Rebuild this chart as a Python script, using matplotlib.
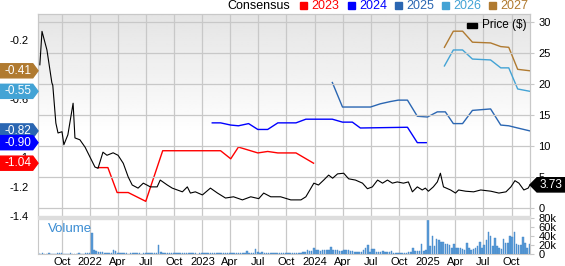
import matplotlib
matplotlib.use('Agg')
import matplotlib.pyplot as plt
import matplotlib.dates as mdates
import matplotlib.transforms as mtransforms
from matplotlib.patches import Polygon, Rectangle
from matplotlib.ticker import FuncFormatter
import numpy as np
import pandas as pd

plt.rcParams['font.family'] = ['Liberation Sans', 'DejaVu Sans']

# stock price ($), right axis
price_dates = ['2021-07-22', '2021-07-29', '2021-08-14', '2021-08-30', '2021-09-02', '2021-09-12',
               '2021-09-19', '2021-10-02', '2021-10-08', '2021-10-21', '2021-11-07', '2021-11-13',
               '2021-11-29', '2021-12-16', '2022-01-01', '2022-01-17', '2022-01-27', '2022-02-12',
               '2022-02-25', '2022-03-17', '2022-04-02', '2022-04-19', '2022-05-05', '2022-05-18',
               '2022-06-06', '2022-06-23', '2022-07-16', '2022-08-07', '2022-08-17', '2022-09-09',
               '2022-09-25', '2022-10-28', '2022-11-13', '2022-11-23', '2022-12-09', '2023-01-01',
               '2023-01-27', '2023-02-19', '2023-03-17', '2023-04-12', '2023-05-11', '2023-06-07',
               '2023-07-03', '2023-07-19', '2023-08-11', '2023-09-12', '2023-10-15', '2023-11-17',
               '2023-12-03', '2023-12-29', '2024-01-13', '2024-01-30', '2024-02-15', '2024-02-28',
               '2024-03-15', '2024-04-04', '2024-04-20', '2024-05-12', '2024-06-04', '2024-06-20',
               '2024-07-06', '2024-07-23', '2024-08-08', '2024-08-24', '2024-09-09', '2024-09-25',
               '2024-10-15', '2024-10-31', '2024-11-13', '2024-11-29', '2024-12-15', '2024-12-25',
               '2025-01-04', '2025-01-20', '2025-02-02', '2025-02-12', '2025-02-22', '2025-03-17',
               '2025-04-02', '2025-04-12', '2025-05-05', '2025-05-31', '2025-06-23', '2025-07-26',
               '2025-08-21', '2025-09-13', '2025-09-29', '2025-10-12', '2025-10-25', '2025-11-10',
               '2025-11-24', '2025-11-30']
price = [23.1, 28.5, 25.5, 20.2, 19.8, 13.7,
         12.1, 12.3, 10.2, 11.8, 16.9, 11.3,
         11.0, 9.8, 8.2, 6.6, 6.4, 9.0,
         8.5, 8.9, 8.5, 7.2, 5.0, 3.7,
         3.2, 4.0, 3.4, 3.4, 4.5, 3.7,
         3.2, 2.6, 3.4, 2.4, 2.6, 2.1,
         3.2, 2.4, 1.6, 1.8, 1.3, 1.8,
         1.5, 2.4, 1.8, 1.8, 1.3, 1.3,
         1.8, 4.0, 3.7, 4.5, 5.3, 4.8,
         5.5, 5.6, 4.7, 4.5, 4.0, 3.1,
         3.4, 4.5, 4.0, 4.5, 4.0, 4.2,
         4.0, 4.2, 2.6, 3.4, 2.9, 3.2,
         2.7, 3.4, 4.2, 5.6, 3.4, 2.9,
         2.4, 2.9, 2.7, 2.6, 2.9, 2.7,
         2.4, 2.6, 3.4, 4.4, 4.0, 2.9,
         3.2, 3.73]

# consensus EPS estimates, left axis
eps_years = ['2023', '2024', '2025', '2026', '2027']
eps_colors = ['#ff0000', '#0000ff', '#2a66b2', '#43a3d5', '#b07a30']

eps_2023_dates = ['2022-01-27', '2022-02-28', '2022-03-30', '2022-05-05', '2022-07-01', '2022-08-25',
                  '2023-03-01', '2023-04-03', '2023-04-28', '2023-06-30', '2023-08-01', '2023-09-03',
                  '2023-11-01', '2023-12-28']
eps_2023 = [-1.07, -1.07, -1.24, -1.24, -1.30, -0.955,
            -0.955, -1.01, -0.93, -0.97, -0.96, -0.97,
            -0.97, -1.04]

eps_2024_dates = ['2023-02-02', '2023-03-01', '2023-04-03', '2023-04-28', '2023-05-31', '2023-06-30',
                  '2023-08-01', '2023-09-03', '2023-11-01', '2023-12-03', '2024-02-27', '2024-03-31',
                  '2024-05-02', '2024-05-28', '2024-10-28', '2024-11-29', '2024-12-28']
eps_2024 = [-0.765, -0.765, -0.78, -0.785, -0.77, -0.81,
            -0.81, -0.765, -0.765, -0.74, -0.74, -0.76,
            -0.76, -0.80, -0.795, -0.90, -0.90]

eps_2025_dates = ['2024-02-27', '2024-03-31', '2024-06-30', '2024-08-01', '2024-09-02', '2024-09-28',
                  '2024-10-28', '2024-11-29', '2025-01-01', '2025-02-02', '2025-02-28', '2025-03-26',
                  '2025-04-25', '2025-05-27', '2025-07-25', '2025-08-27', '2025-09-22', '2025-10-21',
                  '2025-11-30']
eps_2025 = [-0.49, -0.657, -0.657, -0.635, -0.62, -0.61,
            -0.61, -0.72, -0.725, -0.69, -0.69, -0.77,
            -0.77, -0.68, -0.67, -0.78, -0.785, -0.80,
            -0.82]

eps_2026_dates = ['2025-02-25', '2025-03-26', '2025-04-25', '2025-05-27', '2025-07-25', '2025-08-27',
                  '2025-09-22', '2025-10-21', '2025-11-30']
eps_2026 = [-0.377, -0.268, -0.268, -0.33, -0.336, -0.39, -0.39, -0.534, -0.55]

eps_2027_dates = ['2025-02-25', '2025-03-26', '2025-04-25', '2025-05-27', '2025-07-25', '2025-08-27',
                  '2025-09-22', '2025-10-21', '2025-11-30']
eps_2027 = [-0.25, -0.14, -0.14, -0.215, -0.22, -0.245, -0.25, -0.40, -0.41]

eps_dates = [eps_2023_dates, eps_2024_dates, eps_2025_dates, eps_2026_dates, eps_2027_dates]
eps_vals = [eps_2023, eps_2024, eps_2025, eps_2026, eps_2027]

# weekly volume (thousands of shares), weeks starting 2021-07-16
vol_start = '2021-07-16'
volume_k = [2, 1, 2, 1, 1, 2, 1, 1, 1, 2, 2, 3, 1,
            1, 1, 2, 1, 1, 1, 2, 1, 1, 2, 3, 2, 47,
            9, 6, 5, 4, 4, 3, 3, 3, 3, 10, 6, 3, 2,
            2, 2, 2, 1, 2, 3, 2, 2, 2, 1, 2, 2, 2,
            2, 2, 3, 2, 20, 4, 2, 2, 2, 3, 2, 2, 2,
            2, 2, 3, 2, 2, 2, 2, 2, 2, 1, 2, 2, 2,
            2, 2, 2, 2, 3, 2, 2, 2, 2, 2, 2, 2, 2,
            2, 2, 2, 2, 2, 3, 7, 3, 3, 3, 12, 4, 3,
            4, 3, 2, 2, 2, 2, 2, 2, 2, 2, 2, 2, 2,
            2, 2, 2, 2, 3, 3, 4, 5, 9, 7, 6, 13, 8,
            8, 7, 10, 8, 9, 8, 16, 9, 8, 8, 7, 7, 10,
            10, 8, 6, 7, 5, 5, 5, 4, 8, 13, 20, 4, 11,
            11, 5, 5, 5, 7, 4, 4, 4, 6, 3, 3, 3, 3,
            3, 3, 3, 5, 4, 13, 6, 6, 6, 22, 7, 10, 75,
            18, 41, 17, 34, 31, 26, 26, 22, 22, 21, 14, 22, 13,
            13, 13, 11, 9, 25, 13, 9, 12, 14, 17, 26, 14, 20,
            32, 49, 39, 18, 35, 18, 14, 12, 33, 25, 25, 39, 37,
            49, 22, 20, 20, 38, 25, 14, 22]

price_ticks = [0, 5, 10, 15, 20, 25, 30]
eps_ticks = [-0.2, -0.4, -0.6, -0.8, -1.0, -1.2, -1.4]
# -0.4 and -0.8 sit fully under the value tags
eps_tick_labels = ['-0.2', '', '-0.6', '', '-1', '-1.2', '-1.4']
vol_ticks = [0, 20, 40, 60, 80]
last_price = 3.73

grid_c = '#c8c8c8'
fig = plt.figure(figsize=(5.65, 2.66), dpi=100)
ax = fig.add_axes([38 / 565, 1 - 216 / 266, 492 / 565, 202 / 266])
axp = ax.twinx()
axv = fig.add_axes([38 / 565, 1 - 254 / 266, 492 / 565, 36 / 266], sharex=ax)

# gray gradient background in the main panel
grad = np.concatenate([np.ones(40), np.linspace(1.0, 0.895, 60)])[:, None]
ax.imshow(grad, extent=[0, 1, 0, 1], transform=ax.transAxes, aspect='auto',
          cmap='gray', vmin=0, vmax=1, origin='lower', zorder=0)

for d, v, c in zip(eps_dates, eps_vals, eps_colors):
    ax.plot(pd.to_datetime(d), v, color=c, lw=1.0, zorder=3)

axp.plot(pd.to_datetime(price_dates), price, color='black', lw=0.8, zorder=4)

vd = pd.date_range(vol_start, periods=len(volume_k), freq='7D')
axv.bar(vd, volume_k, width=5, color='#5a9bd6', edgecolor='#3f84c8', linewidth=0.3)

ax.set_xlim(pd.Timestamp('2021-07-16'), pd.Timestamp('2025-11-30'))
ax.set_ylim(-1.4, -0.0228)
axp.set_ylim(-1.3, 31.3)
axv.set_ylim(0, 80)

ax.set_yticks(eps_ticks)
ax.set_yticklabels(eps_tick_labels)
axp.set_yticks(price_ticks)
axv.set_yticks(vol_ticks)
axv.yaxis.set_major_formatter(FuncFormatter(lambda v, p: '0' if v == 0 else f'{v:.0f}k'))
axv.yaxis.tick_right()

loc = mdates.MonthLocator(bymonth=(1, 4, 7, 10))
axv.xaxis.set_major_locator(loc)
axv.xaxis.set_major_formatter(FuncFormatter(
    lambda x, p: str(mdates.num2date(x).year) if mdates.num2date(x).month == 1
    else mdates.num2date(x).strftime('%b')))
plt.setp(ax.get_xticklabels(), visible=False)

ax.tick_params(axis='y', length=0, pad=7, labelsize=8)
ax.tick_params(axis='x', length=0)
axp.tick_params(axis='y', length=3, pad=3, labelsize=8, color=grid_c)
axv.tick_params(axis='y', length=3, pad=3, labelsize=8, color=grid_c)
axv.tick_params(axis='x', length=0, pad=2, labelsize=8)

ax.grid(axis='x', color=grid_c, lw=0.9, zorder=1)
axp.grid(axis='y', color=grid_c, lw=0.9)
axv.grid(axis='x', color=grid_c, lw=0.9)
axv.set_axisbelow(True)
for a in (ax, axp, axv):
    for s in a.spines.values():
        s.set_color(grid_c)
ax.spines['bottom'].set_visible(False)
axp.spines['bottom'].set_visible(False)
axv.spines['top'].set_visible(False)
fig.patches.append(Rectangle((38 / 565, 1 - 219 / 266), 492 / 565, 3 / 266,
                             transform=fig.transFigure, color='#dddddd', zorder=0))

axv.text(0.02, 0.69, 'Volume', transform=axv.transAxes, color='#3b8dd3',
         fontsize=9.5, va='center', ha='left')

# left value tags for latest consensus
tr = mtransforms.blended_transform_factory(fig.transFigure, ax.transData)
h = 0.048
for v, c in list(zip(eps_vals, eps_colors))[::-1]:
    y = v[-1]
    pts = [(0, y - h), (0.058, y - h), (0.0673, y), (0.058, y + h), (0, y + h)]
    fig.patches.append(Polygon(pts, closed=True, transform=tr, color=c, zorder=5))
    fig.text(0.031, y, f'{y:.2f}', transform=tr, color='white', fontsize=8.5,
             ha='center', va='center', zorder=6)

# right price tag
trp = mtransforms.blended_transform_factory(fig.transFigure, axp.transData)
hp = 1.15
pts = [(530 / 565, last_price), (537 / 565, last_price + hp), (1, last_price + hp),
       (1, last_price - hp), (537 / 565, last_price - hp)]
fig.patches.append(Polygon(pts, closed=True, transform=trp, color='black', zorder=5))
fig.text(551 / 565, last_price, f'{last_price:.2f}', transform=trp, color='white',
         fontsize=8.5, ha='center', va='center', zorder=6)

# top legend
ly = 1 - 6 / 266
fig.text(227 / 565, ly, 'Consensus', fontsize=9, ha='left', va='center')
for x0, yr, c in zip([300, 348, 395, 442, 489], eps_years, eps_colors):
    fig.patches.append(Rectangle((x0 / 565, 1 - 9 / 266), 7 / 565, 7 / 266,
                                 transform=fig.transFigure, color=c))
    fig.text((x0 + 11) / 565, ly, yr, color=c, fontsize=9, ha='left', va='center')

fig.patches.append(Rectangle((467 / 565, 1 - 28 / 266), 10 / 565, 5 / 266,
                             transform=fig.transFigure, color='black', zorder=5))
fig.text(482 / 565, 1 - 25 / 266, 'Price ($)', fontsize=8.5, ha='left', va='center', zorder=6)

fig.savefig('out.png', dpi=100)
